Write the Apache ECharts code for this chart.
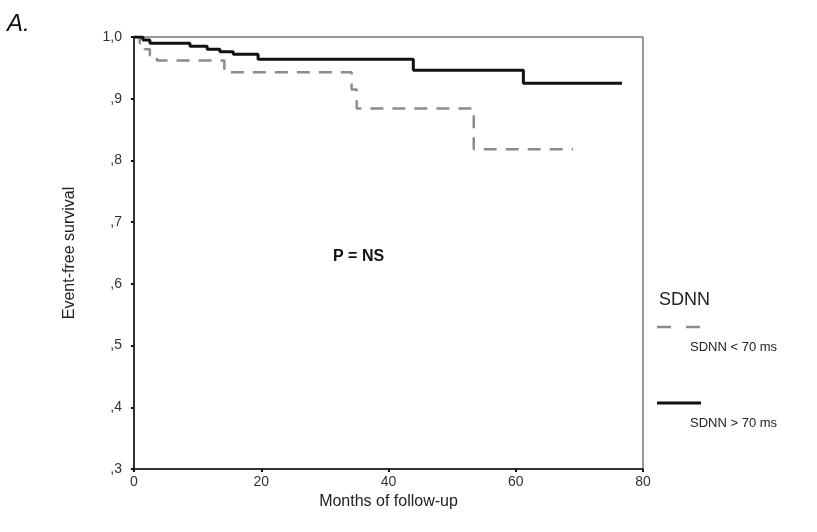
<!DOCTYPE html>
<html>
<head>
<meta charset="utf-8">
<script src="https://cdn.jsdelivr.net/npm/echarts@6/dist/echarts.min.js"></script>
<style>
  html, body { margin: 0; padding: 0; background: #fff; }
  #chart { width: 817px; height: 532px; }
</style>
</head>
<body>
<div id="chart"></div>
<script>
// Kaplan-Meier curves
const lowTimes = [0, 0.9, 1.7, 2.5, 3.6, 14.2, 34.2, 35.0, 53.4, 69.0];
const lowSurv = [1.0, 0.99, 0.98, 0.97, 0.962, 0.943, 0.915, 0.884, 0.818, 0.818];

const highTimes = [0, 1.4, 2.5, 8.8, 11.5, 13.5, 15.6, 19.5, 43.9, 61.2, 76.7];
const highSurv = [1.0, 0.995, 0.99, 0.985, 0.98, 0.976, 0.972, 0.964, 0.946, 0.925, 0.925];

const xTicks = [0, 20, 40, 60, 80];
const yTickLabels = { '0.3': ',3', '0.4': ',4', '0.5': ',5', '0.6': ',6', '0.7': ',7', '0.8': ',8', '0.9': ',9', '1': '1,0' };

const FONT = 'Liberation Sans, Arial, sans-serif';

const pairs = (t, s) => t.map((v, i) => [v, s[i]]);

const chart = echarts.init(document.getElementById('chart'));

chart.setOption({
  backgroundColor: '#fff',
  animation: false,
  grid: {
    left: 134, right: 174, top: 37, bottom: 63,
    show: true, borderColor: '#333', borderWidth: 1
  },
  xAxis: {
    type: 'value',
    min: xTicks[0], max: xTicks[xTicks.length - 1], interval: 20,
    name: 'Months of follow-up',
    nameLocation: 'middle', nameGap: 23,
    nameTextStyle: { fontFamily: FONT, fontSize: 16, color: '#222' },
    axisLine: { lineStyle: { color: '#111', width: 1.5 } },
    axisTick: { show: true, length: 3, lineStyle: { color: '#111', width: 2 } },
    axisLabel: { fontFamily: FONT, fontSize: 14, color: '#333', margin: 6 },
    splitLine: { show: false }
  },
  yAxis: {
    type: 'value',
    min: 0.3, max: 1.0, interval: 0.1,
    name: 'Event-free survival',
    nameLocation: 'middle', nameGap: 56,
    nameTextStyle: { fontFamily: FONT, fontSize: 16, color: '#222' },
    axisLine: { show: true, lineStyle: { color: '#111', width: 1.5 } },
    axisTick: { show: true, length: 3, lineStyle: { color: '#111', width: 2 } },
    axisLabel: {
      fontFamily: FONT, fontSize: 14, color: '#333', margin: 12,
      formatter: v => yTickLabels[String(Math.round(v * 10) / 10)] || ''
    },
    splitLine: { show: false }
  },
  series: [
    {
      name: 'SDNN < 70 ms',
      type: 'line',
      step: 'end',
      symbol: 'none',
      data: pairs(lowTimes, lowSurv),
      lineStyle: { color: '#8c8c8c', width: 2.5, type: [13, 9] },
      z: 2
    },
    {
      name: 'SDNN > 70 ms',
      type: 'line',
      step: 'end',
      symbol: 'none',
      data: pairs(highTimes, highSurv),
      lineStyle: { color: '#111', width: 3 },
      z: 3
    }
  ],
  graphic: [
    { type: 'text', left: 7, top: 12,
      style: { text: 'A.', font: 'italic 24px ' + FONT, fill: '#111' } },
    { type: 'text', left: 333, top: 249,
      style: { text: 'P = NS', font: 'bold 16px ' + FONT, fill: '#111' } },
    // legend
    { type: 'text', left: 659, top: 291,
      style: { text: 'SDNN', font: '18px ' + FONT, fill: '#222' } },
    { type: 'line', shape: { x1: 657, y1: 327, x2: 700, y2: 327 },
      style: { stroke: '#8c8c8c', lineWidth: 2.5, lineDash: [14, 15] } },
    { type: 'text', left: 690, top: 341,
      style: { text: 'SDNN < 70 ms', font: '13px ' + FONT, fill: '#222' } },
    { type: 'line', shape: { x1: 657, y1: 403, x2: 701, y2: 403 },
      style: { stroke: '#111', lineWidth: 3 } },
    { type: 'text', left: 690, top: 417,
      style: { text: 'SDNN > 70 ms', font: '13px ' + FONT, fill: '#222' } }
  ]
});
</script>
</body>
</html>
